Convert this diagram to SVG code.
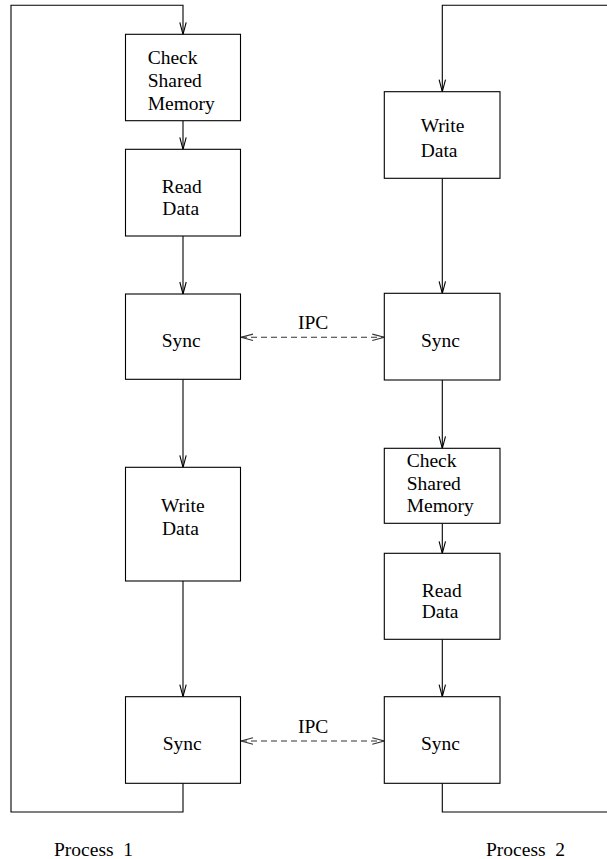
<svg xmlns="http://www.w3.org/2000/svg" width="607" height="859" viewBox="0 0 607 859">
<style>
.box{fill:#fff;stroke:#000;stroke-width:1.1}
.ln{fill:none;stroke:#000;stroke-width:1.1}
.dash{fill:none;stroke:#333;stroke-width:1.1;stroke-dasharray:6 4}
text{font-family:"Liberation Serif","Times New Roman",serif;font-size:19.5px;fill:#000}
</style>
<defs>
<marker id="ah" markerUnits="userSpaceOnUse" markerWidth="14" markerHeight="10" refX="12" refY="4" orient="auto" overflow="visible">
<path d="M0,0.8 L12,4 L0,7.2" fill="none" stroke="#000" stroke-width="1.1"/>
</marker>
<marker id="ahd" markerUnits="userSpaceOnUse" markerWidth="14" markerHeight="10" refX="12" refY="4" orient="auto-start-reverse" overflow="visible">
<path d="M0,0.8 L12,4 L0,7.2" fill="none" stroke="#333" stroke-width="1.1"/>
</marker>
</defs>
<g id="connectors">
<path class="ln" d="M183,783.3 V812 H11 V5.3 H183 V34.3" marker-end="url(#ah)"/>
<path class="ln" d="M183,120.7 V149.3" marker-end="url(#ah)"/>
<path class="ln" d="M183,236 V294" marker-end="url(#ah)"/>
<path class="ln" d="M183,379.3 V467.3" marker-end="url(#ah)"/>
<path class="ln" d="M183,581 V696.7" marker-end="url(#ah)"/>
<path class="ln" d="M442.3,783.3 V812 H620 M620,5.3 H442.3 V91.7" marker-end="url(#ah)"/>
<path class="ln" d="M442.3,178.3 V293.3" marker-end="url(#ah)"/>
<path class="ln" d="M442.3,380 V448.3" marker-end="url(#ah)"/>
<path class="ln" d="M442.3,523.3 V553.3" marker-end="url(#ah)"/>
<path class="ln" d="M442.3,639.3 V696.7" marker-end="url(#ah)"/>
<path class="dash" d="M241,337.3 H384.3" marker-start="url(#ahd)" marker-end="url(#ahd)"/>
<path class="dash" d="M241,741 H384.3" marker-start="url(#ahd)" marker-end="url(#ahd)"/>
<text x="298" y="329.3">IPC</text>
<text x="298" y="732.7">IPC</text>
</g>
<g id="p1-check">
<rect class="box" x="125.5" y="34.3" width="115" height="86.4"/>
<text x="147.7" y="64">Check</text>
<text x="147.7" y="87.3">Shared</text>
<text x="147.7" y="110">Memory</text>
</g>
<g id="p1-read">
<rect class="box" x="125.5" y="149.3" width="115" height="86.7"/>
<text x="161.7" y="193.3">Read</text>
<text x="162.3" y="215">Data</text>
</g>
<g id="p1-sync1">
<rect class="box" x="125.5" y="294" width="115" height="85.3"/>
<text x="161.7" y="347">Sync</text>
</g>
<g id="p1-write">
<rect class="box" x="125.5" y="467.3" width="115" height="113.7"/>
<text x="161" y="512">Write</text>
<text x="162" y="535">Data</text>
</g>
<g id="p1-sync2">
<rect class="box" x="125.5" y="696.7" width="115" height="86.6"/>
<text x="162.7" y="750">Sync</text>
</g>
<g id="p2-write">
<rect class="box" x="384.3" y="91.7" width="115.7" height="86.6"/>
<text x="420.7" y="132">Write</text>
<text x="420.7" y="156.7">Data</text>
</g>
<g id="p2-sync1">
<rect class="box" x="384.3" y="293.3" width="115.7" height="86.7"/>
<text x="421" y="346.7">Sync</text>
</g>
<g id="p2-check">
<rect class="box" x="384.3" y="448.3" width="115.7" height="75"/>
<text x="406.7" y="466.7">Check</text>
<text x="406.7" y="490">Shared</text>
<text x="406.7" y="512">Memory</text>
</g>
<g id="p2-read">
<rect class="box" x="384.3" y="553.3" width="115.7" height="86"/>
<text x="421.7" y="596.7">Read</text>
<text x="421.7" y="618.3">Data</text>
</g>
<g id="p2-sync2">
<rect class="box" x="384.3" y="696.7" width="115.7" height="86.6"/>
<text x="421" y="750">Sync</text>
</g>
<g id="labels">
<text x="54" y="856" xml:space="preserve">Process  1</text>
<text x="486" y="856" xml:space="preserve">Process  2</text>
</g>
</svg>
